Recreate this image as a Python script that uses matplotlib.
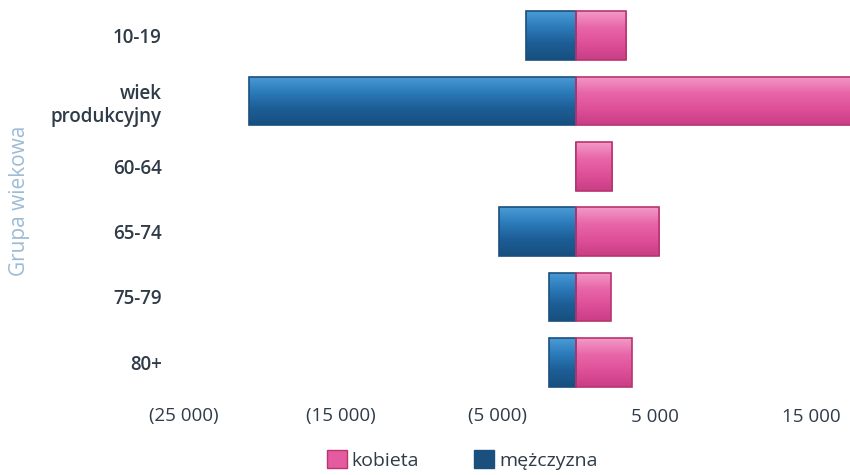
import matplotlib
matplotlib.use("Agg")
import matplotlib.pyplot as plt
import numpy as np
from matplotlib.patches import Patch
from matplotlib.colors import LinearSegmentedColormap

categories = ["10-19", "wiek\nprodukcyjny", "60-64", "65-74", "75-79", "80+"]
kobieta = [3200, 21000, 2300, 5300, 2200, 3550]
mezczyzna = [-3200, -20800, 0, -4900, -1750, -1750]
tick_values = [-25000, -15000, -5000, 5000, 15000]
tick_labels = ["(25 000)", "(15 000)", "(5 000)", "5 000", "15 000"]

blue = "#2b78b6"
blue_edge = "#1a4f7e"
pink = "#e45ba0"
pink_edge = "#b8356f"
text_col = "#2f3b48"

blue_cmap = LinearSegmentedColormap.from_list("b", ["#4a9bd6", "#2b7ab9", "#1d5d96", "#17507f"])
pink_cmap = LinearSegmentedColormap.from_list("p", ["#f29ac8", "#e866a8", "#de5099", "#c93e86"])

plt.rcParams["font.family"] = ["Open Sans", "DejaVu Sans"]

fig = plt.figure(figsize=(8.5, 4.75), dpi=100)
ax = fig.add_axes([170 / 850, 80 / 475, 680 / 850, 392 / 475])

y = list(range(len(categories)))
bm = ax.barh(y, mezczyzna, height=0.74, color=blue, edgecolor=blue_edge, linewidth=1.2)
bk = ax.barh(y, kobieta, height=0.74, color=pink, edgecolor=pink_edge, linewidth=1.2)

grad = np.linspace(0, 1, 64).reshape(-1, 1)
for bars, cmap in ((bm, blue_cmap), (bk, pink_cmap)):
    for p in bars:
        x0, y0 = p.get_x(), p.get_y()
        w, h = p.get_width(), p.get_height()
        if w == 0:
            continue
        im = ax.imshow(grad, cmap=cmap, aspect="auto",
                       extent=(x0, x0 + w, y0 + h, y0), zorder=p.get_zorder() + 0.1,
                       interpolation="bicubic")
        im.set_clip_path(p)
        p.set_zorder(p.get_zorder() + 0.2)
        p.set_facecolor("none")

ax.set_xlim(-25860, 17450)
ax.set_ylim(5.5, -0.5)
ax.set_xticks(tick_values)
ax.set_xticklabels(tick_labels, fontsize=13.5, color=text_col)
ax.set_yticks(y)
ax.set_yticklabels(categories, fontsize=13.5, color=text_col, fontweight="semibold")
for lab in ax.get_yticklabels():
    lab.set_multialignment("right")
ax.tick_params(axis="both", length=0)
ax.tick_params(axis="x", pad=9)
ax.tick_params(axis="y", pad=6)
for s in ax.spines.values():
    s.set_visible(False)

fig.text(20 / 850, 1 - 201 / 475, "Grupa wiekowa", rotation=90, color="#9dbbd4",
         fontsize=15, ha="center", va="center")

handles = [Patch(facecolor=pink, edgecolor=pink_edge, label="kobieta"),
           Patch(facecolor=blue_edge, edgecolor=blue_edge, label="mężczyzna")]
fig.legend(handles=handles, loc="center", bbox_to_anchor=(462 / 850, 1 - 460 / 475),
           ncol=2, frameon=False, fontsize=14, handlelength=1.05, handleheight=1.05,
           handletextpad=0.25, columnspacing=2.8, labelcolor=text_col)

fig.savefig("out.png", dpi=100)
